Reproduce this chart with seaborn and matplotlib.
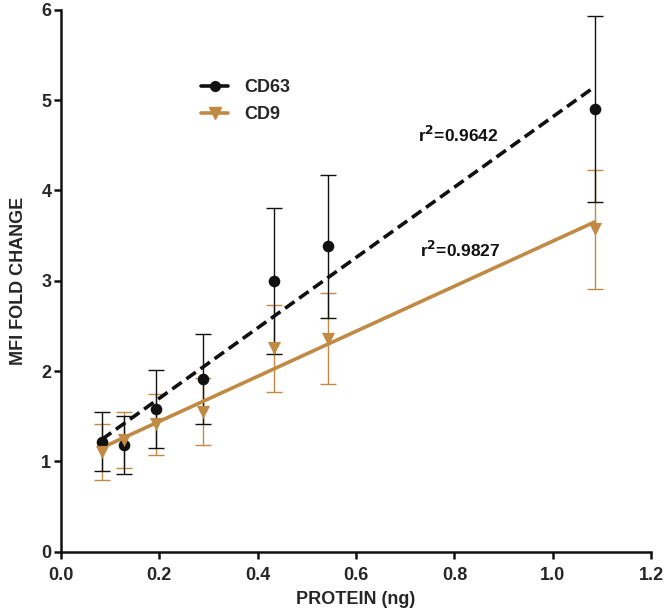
import numpy as np
import pandas as pd
import matplotlib
matplotlib.use('Agg')
import matplotlib.pyplot as plt
from matplotlib.lines import Line2D
import seaborn as sns

# data
protein = [0.083, 0.128, 0.193, 0.289, 0.434, 0.543, 1.085]
cd63_mean = [1.22, 1.18, 1.58, 1.91, 3.00, 3.38, 4.90]
cd63_err = [0.33, 0.32, 0.43, 0.50, 0.81, 0.79, 1.03]
cd9_mean = [1.10, 1.24, 1.41, 1.55, 2.25, 2.36, 3.57]
cd9_err = [0.31, 0.31, 0.34, 0.37, 0.48, 0.50, 0.66]
r2_labels = ['r$^{\\mathbf{2}}$=0.9642', 'r$^{\\mathbf{2}}$=0.9827']

black = '#111111'
tan = '#C08A45'

df = pd.DataFrame({'protein': protein, 'cd63': cd63_mean, 'cd9': cd9_mean})

sns.set_style('ticks')
plt.rcParams['font.family'] = ['Liberation Sans', 'DejaVu Sans']
plt.rcParams['font.weight'] = 'bold'
plt.rcParams['mathtext.default'] = 'bf'

fig = plt.figure(figsize=(6.66, 6.13), dpi=100)
ax = fig.add_axes([0.0916, 0.100, 0.886, 0.884])

# error bars
ax.errorbar(protein, cd9_mean, yerr=cd9_err, fmt='none', ecolor=tan,
            elinewidth=1.0, capsize=5.5, capthick=1.0, zorder=2)
ax.errorbar(protein, cd63_mean, yerr=cd63_err, fmt='none', ecolor=black,
            elinewidth=1.0, capsize=5.5, capthick=1.0, zorder=2)

# linear fits
sns.regplot(data=df, x='protein', y='cd63', ax=ax, scatter=False, ci=None,
            truncate=True, color=black, line_kws={'lw': 2.6, 'ls': (0, (3.2, 1.6)), 'zorder': 3})
sns.regplot(data=df, x='protein', y='cd9', ax=ax, scatter=False, ci=None,
            truncate=True, color=tan, line_kws={'lw': 2.6, 'zorder': 3})

# markers
sns.scatterplot(data=df, x='protein', y='cd63', ax=ax, marker='o', s=70,
                color=black, edgecolor=black, linewidth=0, zorder=4)
sns.scatterplot(data=df, x='protein', y='cd9', ax=ax, marker='v', s=90,
                color=tan, edgecolor=tan, linewidth=0, zorder=4)

ax.text(0.726, 4.61, r2_labels[0], fontsize=12.5, fontweight='bold', color='#111111', va='center')
ax.text(0.730, 3.34, r2_labels[1], fontsize=12.5, fontweight='bold', color='#111111', va='center')

handles = [Line2D([], [], color=black, lw=2.6, marker='o', markersize=7),
           Line2D([], [], color=tan, lw=2.6, marker='v', markersize=8)]
ax.legend(handles, ['CD63', 'CD9'], loc='upper left', bbox_to_anchor=(0.21, 0.902),
          frameon=False, handlelength=1.5, handletextpad=0.9,
          labelspacing=0.55, prop={'weight': 'bold', 'size': 13})

ax.set_xlim(0, 1.2)
ax.set_ylim(0, 6)
ax.set_xticks(np.arange(0, 1.21, 0.2))
ax.set_yticks(range(0, 7))
ax.set_xticklabels([f'{v:.1f}' for v in np.arange(0, 1.21, 0.2)])
ax.set_xlabel('PROTEIN (ng)', fontsize=13, fontweight='bold', labelpad=5)
ax.set_ylabel('MFI FOLD CHANGE', fontsize=13, fontweight='bold', labelpad=10)
ax.tick_params(axis='both', labelsize=13, width=1.8, length=5, color='#111111')
ax.tick_params(axis='x', pad=6)
ax.tick_params(axis='y', pad=2)
for lab in ax.get_xticklabels() + ax.get_yticklabels():
    lab.set_fontweight('bold')
sns.despine(ax=ax)
for s in ['left', 'bottom']:
    ax.spines[s].set_linewidth(1.8)
    ax.spines[s].set_color('#111111')

fig.savefig('out.png', dpi=100)
